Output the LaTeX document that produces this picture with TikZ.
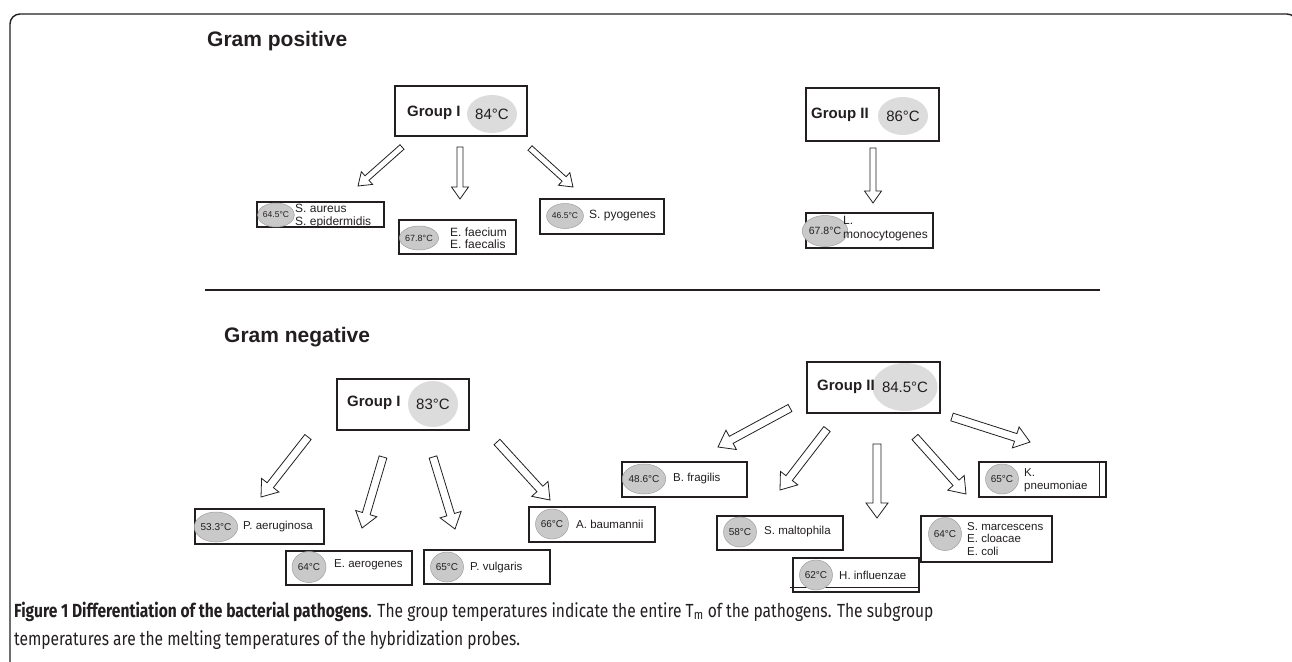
\documentclass[tikz,border=0pt]{standalone}
\usepackage{fontspec}
\setmainfont{Liberation Sans}
\newfontfamily\capfont[FakeStretch=0.82]{Fira Sans}
\usetikzlibrary{calc,shapes.geometric}
\definecolor{ink}{HTML}{231F20}
\definecolor{bigdot}{HTML}{DCDCDC}
\definecolor{smalldot}{HTML}{C9C9C9}
\tikzset{
  box/.style={draw=ink, line width=1.1pt, fill=white, inner sep=0pt, rectangle},
  bigc/.style={ellipse, fill=bigdot, inner sep=0pt, text=ink, font=\fontsize{15}{15}\selectfont},
  smc/.style={ellipse, fill=smalldot, draw=gray!75, line width=0.5pt, inner sep=0pt, text=ink},
  grp/.style={anchor=west, inner sep=0pt, text=ink, font=\bfseries\fontsize{15}{15}\selectfont},
  spp/.style={anchor=west, inner sep=0pt, text=ink, align=left, font=\fontsize{12}{12.5}\selectfont},
  spn/.style={anchor=west, inner sep=0pt, text=ink, align=left, font=\fontsize{11.5}{12.5}\selectfont},
  ttl/.style={anchor=base west, inner sep=0pt, text=ink, font=\bfseries\fontsize{21}{21}\selectfont},
  barrowline/.style={draw=ink, line width=0.8pt, fill=white, line join=miter},
  capt/.style={anchor=base west, inner sep=0pt, text=ink, font=\capfont\fontsize{19}{28}\selectfont},
}
\newcommand\barrow[5]{\draw[barrowline] ($(#1)!#3!90:(#2)$) -- ($(#2)!#5!(#1)!#3!-90:(#1)$) -- ($(#2)!#5!(#1)!#4!-90:(#1)$) -- (#2) -- ($(#2)!#5!(#1)!#4!90:(#1)$) -- ($(#2)!#5!(#1)!#3!90:(#1)$) -- ($(#1)!#3!-90:(#2)$) -- cycle;}
\begin{document}
\begin{tikzpicture}[x=1pt,y=-1pt]
\useasboundingbox (0,0) rectangle (1292,661);
\clip (0,0) rectangle (1292,661);
% frame
\draw[ink, line width=1.4pt, rounded corners=10pt] (10,680) -- (10,14) -- (1297,14) -- (1297,680);

% ---------------- Gram positive ----------------
\node[ttl] (gp) at (207,47) {Gram positive};

\node[box, minimum width=132, minimum height=50] (pg1) at (461,111) {};
\node[bigc, minimum width=50, minimum height=38] (pg1t) at (492,114) {84°C};
\node[grp] (pg1l) at (407,113) {Group I};

\node[box, minimum width=133, minimum height=53] (pg2) at (872.5,114.5) {};
\node[bigc, minimum width=50, minimum height=38] (pg2t) at (903,116) {86°C};
\node[grp] (pg2l) at (811,115) {Group II};

\coordinate (pa1s) at (402,147); \coordinate (pa1e) at (358,186);
\coordinate (pa2s) at (460,147); \coordinate (pa2e) at (460,199);
\coordinate (pa3s) at (530,148); \coordinate (pa3e) at (573,187);
\coordinate (pb1s) at (873,148); \coordinate (pb1e) at (873,203);
\barrow{pa1s}{pa1e}{3pt}{8.5pt}{12pt}
\barrow{pa2s}{pa2e}{3pt}{8.5pt}{12pt}
\barrow{pa3s}{pa3e}{3pt}{8.5pt}{12pt}
\barrow{pb1s}{pb1e}{3pt}{8.5pt}{12pt}

\node[box, minimum width=127, minimum height=25] (sa) at (320.5,214.5) {};
\node[smc, minimum width=26, minimum height=24, font=\fontsize{8.5}{8.5}\selectfont] (sat) at (276,215) {64.5°C};
\node[spp] (sal) at (295,216) {S. aureus\\S. epidermidis};

\node[box, minimum width=117, minimum height=34] (ef) at (457.5,237) {};
\node[smc, minimum width=30, minimum height=24, font=\fontsize{9}{9}\selectfont] (eft) at (419,238) {67.8°C};
\node[spp] (efl) at (450,238) {E. faecium\\E. faecalis};

\node[box, minimum width=124, minimum height=35] (spy) at (602,216.5) {};
\node[smc, minimum width=25, minimum height=25, font=\fontsize{8.5}{8.5}\selectfont] (spyt) at (565,216) {46.5°C};
\node[spp] (spyl) at (589,216) {S. pyogenes};

\node[box, minimum width=127, minimum height=35] (lm) at (869.5,230.5) {};
\node[smc, minimum width=34, minimum height=31, font=\fontsize{10.5}{10.5}\selectfont] (lmt) at (825,231) {67.8°C};
\node[anchor=west, inner sep=0pt, text=ink, align=left, font=\fontsize{12}{14}\selectfont] (lml) at (843,229) {L.\\monocytogenes};

% separator
\coordinate (sepL) at (205,290); \coordinate (sepR) at (1100,290);
\draw[ink, line width=1.2pt] (sepL) -- (sepR);

% ---------------- Gram negative ----------------
\node[ttl] (gn) at (224,342) {Gram negative};

\node[box, minimum width=132, minimum height=51] (ng1) at (403,404.5) {};
\node[bigc, minimum width=50, minimum height=46] (ng1t) at (433,404) {83°C};
\node[grp] (ng1l) at (347,403) {Group I};

\node[box, minimum width=133, minimum height=51] (ng2) at (873.5,387.5) {};
\node[bigc, minimum width=50, minimum height=48] (ng2t) at (905,387) {84.5°C};
\node[grp] (ng2l) at (817,387) {Group II};

\coordinate (na1s) at (308,437); \coordinate (na1e) at (261,497);
\coordinate (na2s) at (383,457); \coordinate (na2e) at (362,528);
\coordinate (na3s) at (433,457); \coordinate (na3e) at (455,529);
\coordinate (na4s) at (497,442); \coordinate (na4e) at (550,500);
\coordinate (nb1s) at (790,408); \coordinate (nb1e) at (718,447);
\coordinate (nb2s) at (827,429); \coordinate (nb2e) at (780,490);
\coordinate (nb3s) at (877,444); \coordinate (nb3e) at (877,518);
\coordinate (nb4s) at (915,437); \coordinate (nb4e) at (966,494);
\coordinate (nb5s) at (952,417); \coordinate (nb5e) at (1030,442);
\foreach \a in {na1,na2,na3,na4,nb1,nb2,nb3,nb4,nb5}{\barrow{\a s}{\a e}{4pt}{11pt}{15pt}}

\node[box, minimum width=129, minimum height=35] (pae) at (259.5,526.5) {};
\node[smc, minimum width=34, minimum height=30, font=\fontsize{10}{10}\selectfont] (paet) at (216,527) {53.3°C};
\node[spn] (pael) at (243,527) {P. aeruginosa};

\node[box, minimum width=126, minimum height=34] (eae) at (349,568) {};
\node[smc, minimum width=34, minimum height=31, font=\fontsize{10}{10}\selectfont] (eaet) at (309,567) {64°C};
\node[spn] (eael) at (334,565) {E. aerogenes};

\node[box, minimum width=126, minimum height=34] (pvu) at (487,567) {};
\node[smc, minimum width=33, minimum height=30, font=\fontsize{10}{10}\selectfont] (pvut) at (447,567) {65°C};
\node[spn] (pvul) at (470,568) {P. vulgaris};

\node[box, minimum width=126, minimum height=35] (aba) at (592,524.5) {};
\node[smc, minimum width=33, minimum height=30, font=\fontsize{10}{10}\selectfont] (abat) at (552,524) {66°C};
\node[spn] (abal) at (576,524) {A. baumannii};

\node[box, minimum width=125, minimum height=35] (bfr) at (684.5,479.5) {};
\node[smc, minimum width=34, minimum height=30, font=\fontsize{10}{10}\selectfont] (bfrt) at (644,479) {48.6°C};
\node[spn] (bfrl) at (673,479) {B. fragilis};

\node[box, minimum width=126, minimum height=34] (sma) at (780,533) {};
\node[smc, minimum width=33, minimum height=30, font=\fontsize{10}{10}\selectfont] (smat) at (740,532) {58°C};
\node[spn] (smal) at (764,532) {S. maltophila};

\node[box, minimum width=126, minimum height=34] (hin) at (856,575) {};
\draw[ink, line width=1.1pt] ([xshift=-2pt,yshift=5pt]hin.south west) -- ([yshift=5pt]hin.south east);
\node[smc, minimum width=33, minimum height=30, font=\fontsize{10}{10}\selectfont] (hint) at (816,575) {62°C};
\node[spn] (hinl) at (839,575) {H. influenzae};

\node[box, minimum width=131, minimum height=46] (smc) at (986.5,539) {};
\node[smc, minimum width=33, minimum height=33, font=\fontsize{10}{10}\selectfont] (smct) at (945,534) {64°C};
\node[spn] (smcl) at (967,539) {S. marcescens\\E. cloacae\\E. coli};

\node[box, minimum width=127, minimum height=35] (kpn) at (1042.5,479.5) {};
\draw[ink, line width=1.1pt] ([xshift=-7pt]kpn.north east) -- ([xshift=-7pt]kpn.south east);
\node[smc, minimum width=33, minimum height=30, font=\fontsize{10}{10}\selectfont] (kpnt) at (1002,479) {65°C};
\node[anchor=west, inner sep=0pt, text=ink, align=left, font=\fontsize{11.5}{13}\selectfont] (kpnl) at (1024,480) {K.\\pneumoniae};

% ---------------- caption ----------------
\node[capt] (cap1) at (14,617) {\textbf{Figure 1 Differentiation of the bacterial pathogens}. The group temperatures indicate the entire T\textsubscript{m} of the pathogens. The subgroup};
\node[capt] (cap2) at (14,645) {temperatures are the melting temperatures of the hybridization probes.};
\end{tikzpicture}
\end{document}
